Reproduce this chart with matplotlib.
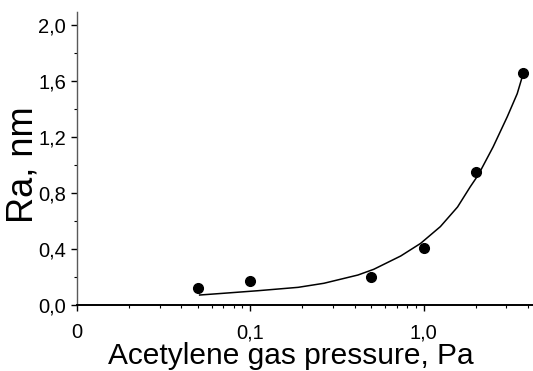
import matplotlib
matplotlib.use("Agg")
import matplotlib.pyplot as plt
from matplotlib.ticker import FixedLocator, FixedFormatter, LogLocator, MultipleLocator, NullFormatter

# measured points
pressure = [0.05, 0.1, 0.5, 1.0, 2.0, 3.75]
ra = [0.12, 0.17, 0.20, 0.405, 0.95, 1.66]

# fit curve
fit_p = [0.051, 0.071, 0.111, 0.189, 0.266, 0.418, 0.516, 0.738, 0.961,
         1.25, 1.57, 1.86, 2.07, 2.52, 3.04, 3.47, 3.76]
fit_ra = [0.071, 0.084, 0.102, 0.126, 0.155, 0.214, 0.255, 0.35, 0.44,
          0.56, 0.70, 0.845, 0.93, 1.13, 1.345, 1.51, 1.655]

xticks = [0.01, 0.1, 1.0]
xticklabels = ["0", "0,1", "1,0"]
yticks = [0.0, 0.4, 0.8, 1.2, 1.6, 2.0]
yticklabels = ["0,0", "0,4", "0,8", "1,2", "1,6", "2,0"]

plt.rcParams['font.family'] = ['Liberation Sans', 'DejaVu Sans']

fig = plt.figure(figsize=(5.33, 3.71), dpi=100)
ax = fig.add_axes([0.1445, 0.178, 0.8555, 0.792])

ax.plot(fit_p, fit_ra, color='black', linewidth=1.1, solid_joinstyle='round')
ax.plot(pressure, ra, 'o', color='black', markersize=7)

ax.set_xscale('log')
ax.set_xlim(0.01, 4.28)
ax.set_ylim(0.0, 2.1)

ax.xaxis.set_major_locator(FixedLocator(xticks))
ax.xaxis.set_major_formatter(FixedFormatter(xticklabels))
ax.xaxis.set_minor_locator(LogLocator(base=10, subs=range(2, 10)))
ax.xaxis.set_minor_formatter(NullFormatter())
ax.yaxis.set_major_locator(FixedLocator(yticks))
ax.yaxis.set_major_formatter(FixedFormatter(yticklabels))
ax.yaxis.set_minor_locator(MultipleLocator(0.2))

ax.tick_params(axis='both', which='major', direction='out', length=4, width=1,
               labelsize=14.5)
ax.tick_params(axis='both', which='minor', direction='out', length=2.5, width=0.8)
ax.tick_params(axis='x', which='major', pad=9)
ax.tick_params(axis='y', which='major', pad=4)

ax.spines['top'].set_visible(False)
ax.spines['right'].set_visible(False)
ax.spines['bottom'].set_linewidth(1.4)
ax.spines['left'].set_color('0.35')
ax.spines['left'].set_linestyle((0, (1, 1)))
ax.spines['left'].set_linewidth(1.0)

ax.set_xlabel("Acetylene gas pressure, Pa", fontsize=21.5)
ax.xaxis.set_label_coords(0.469, -0.125)
ax.xaxis.label.set_va('top')
ax.set_ylabel("Ra, nm", fontsize=26)
ax.yaxis.set_label_coords(-0.08, 0.476)

fig.savefig('out.png', dpi=100)
